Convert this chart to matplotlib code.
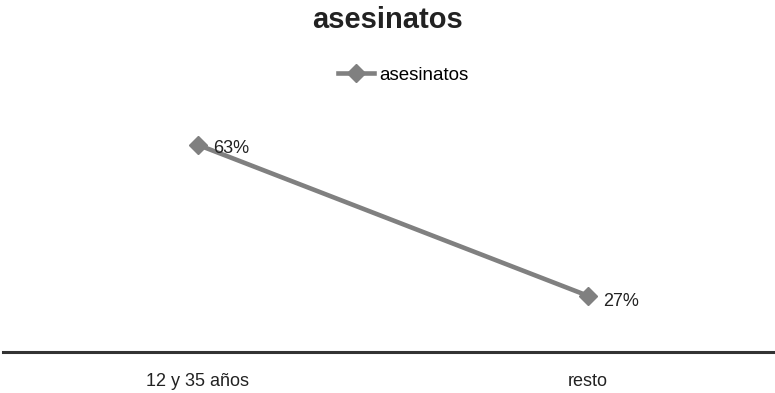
import matplotlib
matplotlib.use("Agg")
import matplotlib.pyplot as plt
from matplotlib.lines import Line2D

plt.rcParams['font.family'] = ['Liberation Sans', 'DejaVu Sans']

categories = ["12 y 35 años", "resto"]
values = [63, 27]
value_labels = ["63%", "27%"]
series_name = "asesinatos"

line_color = "#808080"
text_color = "#222222"

fig = plt.figure(figsize=(7.75, 3.93), dpi=100)
ax = fig.add_axes([3 / 775, 1 - 352 / 393, 780 / 775, (352 - 95) / 393])

x = list(range(len(categories)))
ax.plot(x, values, color=line_color, lw=3.3, marker='D', ms=9,
        markerfacecolor=line_color, markeredgecolor=line_color,
        solid_capstyle='butt', clip_on=False, zorder=3)

for xi, v, lab, dy in zip(x, values, value_labels, [-2.5, -4]):
    ax.annotate(lab, (xi, v), xytext=(11, dy), textcoords='offset points',
                ha='left', va='center', fontsize=13, color=text_color)

ax.set_xlim(-0.5, 1.5)
ax.set_ylim(13.6, 74.9)
ax.set_yticks([])
ax.set_xticks(x)
ax.set_xticklabels(categories, fontsize=13, color=text_color)
ax.tick_params(axis='x', length=0, pad=15)

for s in ['top', 'right', 'left']:
    ax.spines[s].set_visible(False)
ax.spines['bottom'].set_color('#333333')
ax.spines['bottom'].set_linewidth(2.2)

fig.text(0.5, 1 - 20 / 393, "asesinatos", ha='center', va='center',
         fontsize=21, fontweight='bold', color=text_color)

handle = Line2D([], [], color=line_color, lw=3.3, marker='D', ms=9,
                markerfacecolor=line_color, markeredgecolor=line_color)
fig.legend([handle], [series_name], loc='center',
           bbox_to_anchor=(0.5 + 16 / 775, 1 - 75 / 393),
           frameon=False, fontsize=13.5, handlelength=1.9, handletextpad=0.3)

fig.savefig("out.png", dpi=100)
